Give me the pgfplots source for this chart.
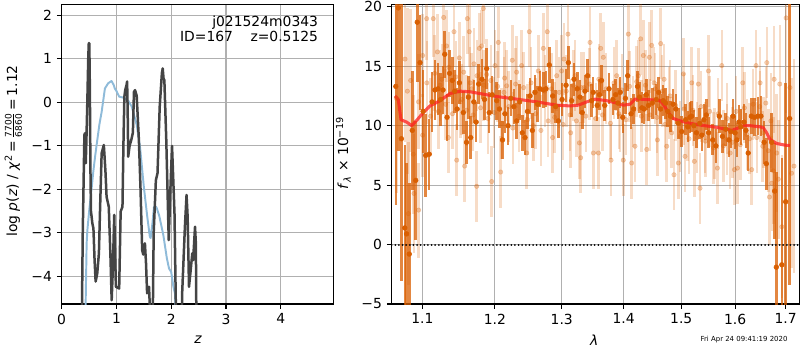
\documentclass[border=0pt]{standalone}
\usepackage{pgfplots}
\pgfplotsset{compat=1.18}
\usepackage{fontspec}
\setmainfont{DejaVu Sans}
\definecolor{darkor}{RGB}{217,95,2}
\definecolor{pzblue}{RGB}{143,187,217}
\definecolor{pzblack}{RGB}{68,68,68}
\definecolor{gridc}{RGB}{176,176,176}
\definecolor{modelred}{RGB}{255,30,30}
\pgfplotsset{common/.style={
  scale only axis, anchor=south west,
  axis line style={black, line width=0.8pt},
  grid=major, grid style={gridc, line width=0.8pt},
  tick align=outside, major tick length=3.5pt,
  tick style={black, line width=0.8pt},
  tick pos=left,
  ticklabel style={font=\fontsize{10}{12}\selectfont},
  clip=true}}
\begin{document}
\begin{tikzpicture}
\useasboundingbox (0,0) rectangle (576pt,252pt);
% ---------------- left panel ----------------
\begin{axis}[common, at={(44.4pt,33.1pt)}, width=195.6pt, height=215.5pt,
  xmin=0, xmax=4.96, ymin=-4.637, ymax=2.244,
  xtick={0,1,2,3,4}, xticklabels={0,1,2,3,4},
  ytick={-4,-3,-2,-1,0,1,2}, yticklabels={−4,−3,−2,−1,0,1,2}]
\addplot[pzblue, line width=1.4pt, line join=round] coordinates {
(0.42,-6) (0.456,-3.24) (0.47,-2.93) (0.505,-2.46) (0.55,-1.94) (0.577,-1.6)
(0.61,-1.25) (0.65,-0.87) (0.69,-0.5) (0.73,-0.22) (0.79,0.32) (0.85,0.44)
(0.91,0.49) (0.95,0.40) (0.97,0.32) (1.0,0.26) (1.05,0.13) (1.12,0.11)
(1.22,0.03) (1.28,-0.10) (1.37,-0.52) (1.43,-1.02) (1.50,-1.94) (1.56,-2.6)
(1.61,-3.09) (1.625,-3.12) (1.66,-2.75) (1.686,-2.40) (1.73,-2.41) (1.78,-2.6)
(1.856,-3.05) (1.92,-3.58) (1.96,-3.82) (2.0,-3.9) (2.04,-4.24) (2.07,-4.4) (2.10,-6)};
\addplot[pzblack, line width=1.8pt, line join=round] coordinates {
(0.36,-6) (0.385,-3.0) (0.405,-1.48) (0.415,-0.75) (0.425,-0.71) (0.44,-1.4)
(0.455,-0.7) (0.47,0.1) (0.485,1.0) (0.495,1.36) (0.505,1.36) (0.515,0.3)
(0.525,-1.5) (0.535,-2.5) (0.56,-2.78) (0.58,-2.9) (0.60,-3.6) (0.62,-4.12)
(0.65,-3.93) (0.68,-3.47) (0.70,-2.5) (0.73,-1.17) (0.77,-0.98) (0.80,-1.6)
(0.82,-2.17) (0.86,-2.40) (0.89,-3.5) (0.913,-4.55) (0.935,-3.8) (0.96,-2.59)
(0.99,-4.24) (1.05,-4.28) (1.077,-2.51) (1.11,-2.40) (1.13,-0.8) (1.145,0.13)
(1.16,0.28) (1.185,0.4) (1.195,0.48) (1.205,-0.2) (1.215,-1.25) (1.24,-1.0)
(1.27,-0.87) (1.30,-0.7) (1.32,0.24) (1.34,0.28) (1.37,0.15) (1.41,-0.87)
(1.44,-2.0) (1.47,-3.4) (1.49,-3.5) (1.52,-3.24) (1.54,-3.7) (1.56,-4.39)
(1.595,-4.24) (1.61,-4.7) (1.625,-6) (1.655,-6) (1.68,-3.0) (1.72,-1.79)
(1.75,-1.63) (1.79,-0.10) (1.83,0.67) (1.845,0.78) (1.86,0.55) (1.875,0.51)
(1.91,-0.87) (1.955,-3.17) (1.985,-2.0) (2.015,-1.0) (2.06,-2.55) (2.10,-6)
(2.18,-6) (2.20,-4.39) (2.25,-2.86) (2.28,-2.13) (2.30,-2.63) (2.325,-4.24)
(2.35,-3.93) (2.385,-3.47) (2.40,-3.63) (2.435,-2.86) (2.45,-3.24) (2.465,-6)};
\end{axis}
% ---------------- right panel ----------------
\begin{axis}[common, at={(282.0pt,33.1pt)}, width=293.5pt, height=215.5pt,
  xmode=log, xmin=1.0604, xmax=1.7279, ymin=-5, ymax=20.17,
  xtick={1.1,1.2,1.3,1.4,1.5,1.6,1.7}, xticklabels={1.1,1.2,1.3,1.4,1.5,1.6,1.7},
  ytick={-5,0,5,10,15,20}, yticklabels={−5,0,5,10,15,20},
  minor xtick={}, log basis x=10]
% light points
\addplot[only marks, mark=*, mark size=1.6pt, color=darkor, opacity=0.28,
  mark options={draw=none, fill=darkor},
  error bars/.cd, y dir=both, y explicit, error mark=none,
  error bar style={line width=1.8pt, color=darkor, opacity=0.22}]
  table[x index=0, y index=1, y error index=2] {
1.0664 12.3 8
1.0775 15.6 7
1.0805 12.9 7
1.0818 2.6 6
1.0848 13.8 6
1.0882 7.6 5
1.0891 4.3 5
1.0950 12.0 4
1.0952 2.9 4
1.1005 15.9 3.5
1.1005 9.2 3.5
1.1058 19.0 3.5
1.1060 13.6 3.5
1.1110 10.8 3.2
1.1146 19.0 3.2
1.1165 14.4 3.2
1.1200 16.2 3.2
1.1215 11.2 3.2
1.1236 13.4 3.0
1.1260 13.9 3
1.1285 19.1 3
1.1310 11.8 3
1.1326 16.7 3
1.1349 9.0 3
1.1355 14.9 3
1.1405 11.0 3
1.1426 17.9 3
1.1450 14.1 3
1.1463 7.1 3
1.1499 15.7 3
1.1515 12.0 3
1.1532 12.2 3
1.1560 14.5 3
1.1573 6.6 3
1.1600 11.3 3
1.1610 19.0 3
1.1637 17.9 3
1.1650 13.6 3
1.1670 13.1 3
1.1690 10.9 3
1.1702 15.2 3
1.1740 4.9 3
1.1745 14.2 3
1.1778 16.5 3
1.1795 11.5 3
1.1811 16.7 3
1.1834 19.85 3
1.1840 13.4 3
1.1882 14.3 3
1.1900 10.6 3
1.1940 13.8 3
1.1953 5.3 3
1.1990 11.1 3
1.2001 15.05 3
1.2040 13.3 3
1.2049 17.0 3
1.2083 6.1 3
1.2095 10.2 3
1.2131 12.8 3
1.2140 14.0 3
1.2170 13.35 3
1.2200 11.6 3
1.2252 15.5 3
1.2260 9.8 3
1.2300 13.5 3
1.2316 14.5 3
1.2350 10.8 3
1.2390 15.05 3
1.2420 13.2 3
1.2465 7.7 3
1.2480 10.5 3
1.2505 17.9 3
1.2530 13.6 3
1.2565 10.0 3
1.2600 11.0 3
1.2640 14.6 3
1.2680 9.6 3
1.2716 16.5 3
1.2740 12.9 3
1.2776 17.9 3
1.2790 10.4 3
1.2840 13.1 3
1.2858 9.0 3
1.2890 10.7 3
1.2922 14.2 3
1.2960 12.8 3
1.2998 14.6 3
1.3020 10.1 3
1.3035 15.6 3
1.3070 12.9 3
1.3097 17.7 3
1.3130 10.9 3
1.3139 9.4 3
1.3180 13.4 3
1.3208 14.2 3
1.3230 10.4 3
1.3277 8.55 3
1.3298 7.3 3
1.3310 13.2 3
1.3351 13.2 3
1.3380 10.8 3
1.3440 13.5 3
1.3448 17.0 3
1.3502 7.7 3
1.3540 10.6 3
1.3583 7.7 3
1.3590 13.9 3
1.3620 16.5 3
1.3650 10.9 3
1.3663 15.75 3
1.3710 13.1 3
1.3780 10.2 3
1.3790 7.1 3
1.3840 13.6 3
1.3884 14.2 3
1.3920 11.0 3
1.3939 10.8 3
1.3970 13.0 3
1.3995 7.1 3
1.4040 10.5 3
1.4079 17.7 3
1.4100 13.3 3
1.4136 6.86 3
1.4160 11.2 3
1.4192 8.27 3
1.4220 13.7 3
1.4249 14.2 3
1.4289 17.3 3
1.4300 10.8 3
1.4335 15.9 3
1.4370 13.4 3
1.4393 8.0 3
1.4439 15.75 3
1.4450 10.9 3
1.4479 16.75 3
1.4520 13.6 3
1.4537 13.1 3
1.4570 10.7 3
1.4578 8.8 3
1.4636 16.9 3
1.4660 12.9 3
1.4695 13.9 3
1.4710 10.1 3
1.4742 8.27 3
1.4780 11.9 3
1.4801 12.5 3
1.4830 9.4 3
1.4871 5.87 3
1.4900 11.7 3
1.4949 6.86 3
1.4980 9.1 3
1.5039 14.35 3
1.5050 11.4 3
1.5069 7.42 3
1.5111 10.0 3
1.5140 8.9 3
1.5190 13.6 3
1.5210 11.3 3
1.5238 7.0 3
1.5290 9.0 3
1.5312 13.5 3
1.5342 4.74 3
1.5360 11.6 3
1.5435 9.0 3
1.5440 8.7 3
1.5497 14.6 3
1.5520 11.2 3
1.5590 8.13 3
1.5610 8.5 3
1.5665 6.43 3
1.5680 11.0 3
1.5747 15.05 3
1.5780 8.3 3
1.5841 8.84 3
1.5850 10.6 3
1.5905 7.7 3
1.5950 8.6 3
1.5988 6.3 3
1.6020 11.2 3
1.6045 6.43 3
1.6100 8.4 3
1.6147 13.6 3
1.6180 11.5 3
1.6225 9.26 3
1.6280 8.9 3
1.6322 6.3 3
1.6350 11.8 3
1.6407 15.05 3
1.6420 9.0 3
1.6480 11.6 3
1.6486 13.6 3
1.6539 8.27 3
1.6550 9.4 3
1.6600 11.9 3
1.6619 15.3 3
1.6650 7.9 3.5
1.6672 4.0 4
1.6700 10.4 4
1.6719 5.16 4
1.6750 6.2 4.5
1.6766 13.9 4.5
1.6819 7.7 5
1.6850 5.5 5
1.6880 13.5 5
1.6921 1.5 6
1.7009 19.06 8
1.7087 13.2 8
1.7121 6.0 8
1.7170 6.6 9
};
% dark points
\addplot[only marks, mark=*, mark size=1.7pt, color=darkor,
  mark options={draw=none, fill=darkor},
  error bars/.cd, y dir=both, y explicit, error mark=none,
  error bar style={line width=1.8pt, color=darkor, opacity=0.75}]
  table[x index=0, y index=1, y error index=2] {
1.0657 13.3 10
1.0688 19.9 12
1.0728 8.9 12
1.0772 1.4 7
1.0795 0.9 6
1.0830 -0.8 6
1.0869 9.6 5
1.0914 5.4 5
1.0934 18.7 5
1.0970 15.3 4
1.1010 11.2 3.5
1.1045 7.5 3.5
1.1092 7.6 3
1.1130 12.0 2.5
1.1168 13.0 2.5
1.1210 13.1 2.2
1.1243 12.2 2.2
1.1277 13.0 2.0
1.1300 16.0 2.0
1.1331 10.7 2.0
1.1366 14.4 2.0
1.1402 13.8 2.0
1.1435 12.9 1.8
1.1469 11.4 1.8
1.1500 13.6 1.8
1.1554 11.1 1.8
1.1598 8.6 1.8
1.1625 12.4 1.8
1.1657 9.0 1.8
1.1700 12.0 1.8
1.1733 10.3 1.7
1.1769 13.5 1.7
1.1814 13.9 1.7
1.1850 12.2 1.7
1.1882 14.8 1.7
1.1918 11.1 1.7
1.1960 12.6 1.6
1.2025 12.1 1.6
1.2065 11.4 1.6
1.2110 8.8 1.6
1.2144 11.0 1.6
1.2190 10.0 1.6
1.2230 12.3 1.5
1.2275 11.6 1.5
1.2317 10.4 1.5
1.2360 12.0 1.5
1.2400 9.4 1.5
1.2440 9.0 1.5
1.2477 11.2 1.5
1.2515 12.5 1.5
1.2550 9.6 1.5
1.2590 12.8 1.5
1.2630 11.8 1.5
1.2666 13.1 1.5
1.2717 13.0 1.5
1.2757 13.1 1.5
1.2808 15.1 1.5
1.2860 12.5 1.4
1.2905 11.6 1.4
1.2947 10.4 1.4
1.3005 12.2 1.4
1.3067 13.4 1.4
1.3103 15.3 1.4
1.3156 12.1 1.4
1.3192 13.9 1.4
1.3244 13.1 1.4
1.3285 12.4 1.4
1.3323 11.1 1.4
1.3366 12.9 1.4
1.3409 14.2 1.4
1.3473 12.1 1.4
1.3499 12.8 1.3
1.3563 11.7 1.3
1.3600 12.6 1.3
1.3634 13.8 1.3
1.3687 11.7 1.3
1.3757 13.1 1.3
1.3822 12.2 1.3
1.3866 12.6 1.3
1.3905 11.9 1.3
1.3943 12.8 1.3
1.3986 10.7 1.3
1.4030 12.3 1.3
1.4069 14.2 1.3
1.4126 11.0 1.3
1.4169 11.4 1.3
1.4236 13.3 1.3
1.4270 12.4 1.3
1.4310 11.5 1.3
1.4349 11.4 1.3
1.4385 12.6 1.3
1.4422 11.7 1.3
1.4490 11.9 1.3
1.4558 12.2 1.3
1.4600 12.8 1.3
1.4634 11.4 1.3
1.4680 12.1 1.3
1.4720 11.9 1.3
1.4760 11.2 1.3
1.4806 10.8 1.3
1.4855 11.8 1.3
1.4904 11.4 1.3
1.4950 10.2 1.3
1.5009 9.5 1.3
1.5079 10.5 1.3
1.5120 9.9 1.3
1.5157 10.7 1.3
1.5187 10.8 1.3
1.5230 10.0 1.3
1.5276 9.4 1.3
1.5337 10.2 1.3
1.5375 9.2 1.3
1.5414 10.5 1.3
1.5460 10.9 1.3
1.5500 9.4 1.3
1.5577 8.8 1.3
1.5637 8.3 1.4
1.5700 10.8 1.4
1.5760 9.1 1.4
1.5821 9.7 1.4
1.5883 8.8 1.4
1.5920 9.5 1.4
1.5962 10.8 1.4
1.6000 9.4 1.4
1.6036 8.8 1.4
1.6075 10.3 1.4
1.6110 9.9 1.5
1.6171 10.3 1.5
1.6210 9.6 1.5
1.6253 7.7 1.5
1.6315 10.8 1.5
1.6377 10.7 1.6
1.6441 10.8 1.6
1.6503 10.8 1.7
1.6566 8.6 1.8
1.6611 6.8 2.2
1.6716 8.6 2.5
1.6776 4.5 4
1.6810 -1.9 8
1.6920 -1.7 9
1.6998 3.6 10
1.7082 10.6 14
};
% model
\addplot[modelred, opacity=0.75, line width=2.2pt, line join=round] coordinates {
(1.0646,12.5) (1.0688,12.2) (1.0723,10.5) (1.0796,10.3) (1.0861,10.0) (1.0934,10.5)
(1.1013,11.1) (1.1102,11.66) (1.1236,12.1) (1.1371,12.7) (1.1508,12.9) (1.1647,12.85)
(1.1834,12.65) (1.2025,12.45) (1.2317,12.23) (1.2616,12.0) (1.2922,11.72) (1.3129,11.66)
(1.326,11.72) (1.3395,12.0) (1.3528,12.23) (1.3719,12.1) (1.3884,11.9) (1.3994,11.72)
(1.4107,11.8) (1.4192,12.23) (1.4278,12.23) (1.448,12.17) (1.4624,12.1) (1.4682,11.8)
(1.477,11.1) (1.4859,10.6) (1.4979,10.4) (1.5159,10.2) (1.5342,10.05) (1.5588,9.9)
(1.584,9.7) (1.5935,9.6) (1.603,9.75) (1.6158,10.0) (1.6288,10.0) (1.6484,9.9)
(1.655,9.83) (1.6617,9.4) (1.6683,8.84) (1.6818,8.5) (1.6986,8.36) (1.7088,8.33)};
\addplot[black, line width=1.4pt, line cap=round, dash pattern=on 0.01pt off 2.6pt] coordinates {(1.0604,0) (1.7279,0)};
\end{axis}
% ---------------- texts ----------------
\node[anchor=base east, font=\fontsize{10}{12}\selectfont, inner sep=0pt] at (229.2pt,233.1pt) {j021524m0343};
\node[anchor=base east, font=\fontsize{10}{12}\selectfont, inner sep=0pt] at (229.2pt,222.0pt) {ID=167\hspace{12.6pt}z=0.5125};
\node[rotate=90, font=\fontsize{10}{12}\selectfont, inner sep=0pt] at (9.6pt,143.3pt)
  {log \textit{p}(\textit{z}) / \textit{χ}\textsuperscript{2}\,=\,$\frac{\hbox{\fontsize{6.5}{6.5}\selectfont 7700}}{\hbox{\fontsize{6.5}{6.5}\selectfont 6860}}$\,=\,1.12};
\node[font=\fontsize{10}{12}\selectfont, inner sep=0pt] at (142.6pt,7.2pt) {\textit{z}};
\node[rotate=90, font=\fontsize{10}{12}\selectfont, inner sep=0pt] at (247.2pt,141.8pt)
  {\textit{f}\textsubscript{\textit{λ}} × 10\textsuperscript{−19}};
\node[font=\fontsize{10}{12}\selectfont, inner sep=0pt] at (427.9pt,6.7pt) {\textit{λ}};
\node[font=\fontsize{5}{6}\selectfont, inner sep=0pt] at (535.7pt,7.7pt) {Fri Apr 24 09:41:19 2020};
\end{tikzpicture}
\end{document}
